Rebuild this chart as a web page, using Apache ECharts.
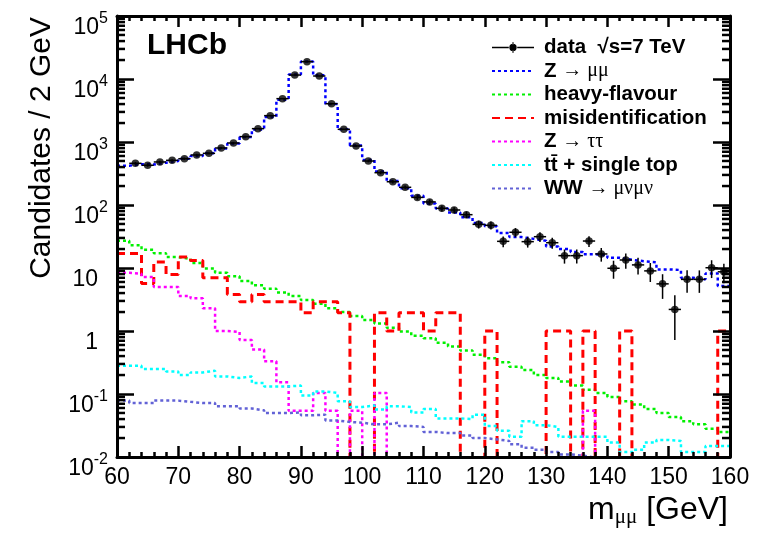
<!DOCTYPE html>
<html>
<head>
    <meta charset="utf-8">
    <title>LHCb m_mumu</title>
    <script src="https://cdn.jsdelivr.net/npm/echarts@6/dist/echarts.min.js"></script>
    <style>
        html, body { margin: 0; padding: 0; background: #fff; }
        #chart { width: 769px; height: 533px; }
    </style>
</head>
<body>
    <div id="chart"></div>
    <script>
        // 2 GeV bins, centres
        var binCentres = [61, 63, 65, 67, 69, 71, 73, 75, 77, 79,
            81, 83, 85, 87, 89, 91, 93, 95, 97, 99,
            101, 103, 105, 107, 109, 111, 113, 115, 117, 119,
            121, 123, 125, 127, 129, 131, 133, 135, 137, 139,
            141, 143, 145, 147, 149, 151, 153, 155, 157, 159];
        var xTicks = [60, 70, 80, 90, 100, 110, 120, 130, 140, 150, 160];
        var yDecades = [0.01, 0.1, 1, 10, 100, 1000, 10000, 100000];

        var dataCounts = [null, 459, 427, 482, 512, 543, 622, 661, 803, 964,
            1216, 1629, 2620, 4875, 11560, 18840, 11160, 4050, 1590, 865,
            499, 326, 234, 191, 132, 112, 88.6, 83.3, 70.2, 49.3,
            47.6, 26.5, 36.9, 26.2, 31.4, 25.2, 15.7, 15.7, 26.8, 16.7,
            9.9, 13.4, 11.2, 9.0, 5.6, 2.2, 6.6, 6.6, 10.1, 8.7];
        var zMuMu = [420, 445, 440, 470, 500, 540, 600, 660, 790, 950,
            1200, 1580, 2500, 4700, 11800, 19000, 11500, 4000, 1600, 880,
            520, 340, 240, 185, 140, 106, 88, 76, 64, 52,
            46, 36, 31, 29, 27, 22, 20, 18, 16.5, 16,
            14.5, 13.5, 12.8, 12.3, 9.5, 9.3, 7.0, 6.6, 8.2, 5.2];
        var heavyFlavour = [27, 23, 19.5, 17.2, 14.9, 14.0, 12.0, 9.8, 8.4, 7.4,
            6.2, 5.3, 4.7, 4.1, 3.6, 3.1, 2.7, 2.3, 2.0, 1.73,
            1.49, 1.32, 1.13, 0.98, 0.84, 0.77, 0.65, 0.57, 0.49, 0.42,
            0.37, 0.32, 0.27, 0.24, 0.20, 0.18, 0.158, 0.137, 0.117, 0.104,
            0.090, 0.077, 0.068, 0.058, 0.050, 0.043, 0.037, 0.033, 0.028, 0.025];
        var misId = [17, 17, 5.7, 12.4, 7.9, 14.9, 13.2, 7.0, 7.0, 3.8,
            2.9, 3.8, 2.9, 2.9, 2.9, 1.95, 2.9, 2.9, 1.95, 0,
            0, 1.95, 1.0, 1.95, 1.95, 1.0, 1.95, 1.95, 0, 0,
            1.0, 0, 0, 0, 0, 1.0, 1.0, 0, 1.0, 0,
            0, 1.0, 0, 0, 0, 0, 0, 0, 0, 1.0];
        var zTauTau = [8.4, 8.1, 7.2, 5.0, 5.0, 3.6, 3.3, 2.3, 1.0, 0.97,
            0.72, 0.51, 0.33, 0.153, 0.054, 0.054, 0.104, 0.054, 0, 0.054,
            0, 0.104, 0, 0, 0, 0, 0, 0, 0, 0,
            0, 0, 0, 0, 0, 0, 0, 0, 0.054, 0,
            0, 0, 0, 0, 0, 0, 0, 0, 0, 0];
        var ttSingleTop = [0.28, 0.28, 0.25, 0.25, 0.228, 0.20, 0.22, 0.234, 0.19, 0.18,
            0.19, 0.149, 0.132, 0.132, 0.136, 0.095, 0.11, 0.104, 0.077, 0.062,
            0.066, 0.057, 0.064, 0.062, 0.051, 0.058, 0.041, 0.041, 0.040, 0.047,
            0.031, 0.026, 0.021, 0.037, 0.032, 0.030, 0.021, 0.021, 0.021, 0.021,
            0.017, 0.012, 0.013, 0.017, 0.0186, 0.018, 0.012, 0.012, 0.015, 0.015];
        var wwMuNu = [0.0785, 0.072, 0.072, 0.0785, 0.0785, 0.075, 0.072, 0.072, 0.064, 0.064,
            0.059, 0.055, 0.050, 0.050, 0.051, 0.046, 0.047, 0.038, 0.036, 0.035,
            0.033, 0.033, 0.035, 0.031, 0.030, 0.025, 0.024, 0.024, 0.022, 0.020,
            0.019, 0.018, 0.016, 0.014, 0.013, 0.012, 0.011, 0.0105, 0.0098, 0.0094,
            0.0088, 0.0085, 0.008, 0.008, 0.0075, 0.0075, 0.007, 0.007, 0.0065, 0.0065];

        var FONT = 'Liberation Sans, Arial, Helvetica, sans-serif';
        var SERIF = 'Liberation Serif, Times New Roman, serif';
        var xMin = xTicks[0], xMax = xTicks[xTicks.length - 1];

        // histogram outline: left bin edges + closing right edge, zero bins pushed below the axis
        function stepLine(vals) {
            var pts = [];
            for (var i = 0; i < binCentres.length; i++) {
                pts.push([binCentres[i] - 1, vals[i] > 0 ? vals[i] : 1e-4]);
            }
            var last = binCentres.length - 1;
            pts.push([binCentres[last] + 1, vals[last] > 0 ? vals[last] : 1e-4]);
            return pts;
        }

        function histSeries(name, vals, color, dash, width) {
            return {
                name: name,
                type: 'line',
                step: 'end',
                symbol: 'none',
                clip: true,
                data: stepLine(vals),
                lineStyle: { color: color, width: width, type: dash },
                itemStyle: { color: color },
                emphasis: { disabled: true },
                z: 2
            };
        }

        var points = [], errBars = [];
        for (var i = 0; i < binCentres.length; i++) {
            var v = dataCounts[i];
            if (v == null) continue;
            points.push([binCentres[i], v]);
            errBars.push([binCentres[i], v, v - Math.sqrt(v), v + Math.sqrt(v)]);
        }

        var minorTicks = [];
        for (var d = 0; d < yDecades.length - 1; d++) {
            for (var m = 2; m <= 9; m++) minorTicks.push([xMin, yDecades[d] * m]);
        }

        function yLabel(val) {
            var e = Math.round(Math.log(val) / Math.LN10);
            if (e === 0) return '{n|1}';
            if (e === 1) return '{n|10}';
            return '{b|10}{e|' + e + '}';
        }

        var legendText = {
            'data': '{b|data  √s=7 TeV}',
            'Z → μμ': '{b|Z }{s|→ μμ}',
            'heavy-flavour': '{b|heavy-flavour}',
            'misidentification': '{b|misidentification}',
            'Z → ττ': '{b|Z }{s|→ ττ}',
            'tt̄ + single top': '{b|tt̄ + single top}',
            'WW → μνμν': '{b|WW }{s|→ μνμν}'
        };
        var dataIcon = 'path://M0,9.4h16v1.2h-16z M24,9.4h16v1.2h-16z M19.4,5h1.2v2h-1.2z M19.4,13h1.2v2h-1.2z ' +
            'M16.5,10a3.5,3.5 0 1,0 7,0a3.5,3.5 0 1,0 -7,0z';

        var axisLine = { show: true, lineStyle: { color: '#000', width: 3 } };
        var myChart = echarts.init(document.getElementById('chart'));
        var option = {
            animation: false,
            backgroundColor: '#fff',
            title: {
                text: 'LHCb', left: 147, top: 31, padding: 0,
                textStyle: { fontFamily: FONT, fontWeight: 'bold', fontSize: 30, color: '#000' }
            },
            grid: { left: 117, right: 39, top: 16, bottom: 76 },
            legend: {
                orient: 'vertical', left: 491, top: 37, padding: 0,
                itemWidth: 42, itemHeight: 14, itemGap: 2.5,
                selectedMode: false,
                itemStyle: { opacity: 0 },
                formatter: function (name) { return legendText[name]; },
                textStyle: {
                    color: '#000', fontFamily: FONT, fontWeight: 'bold', fontSize: 20.5, lineHeight: 21,
                    padding: [0, 0, 0, 5],
                    rich: {
                        b: { fontFamily: FONT, fontWeight: 'bold', fontSize: 20.5, lineHeight: 21, color: '#000' },
                        s: { fontFamily: SERIF, fontWeight: 'normal', fontSize: 20, lineHeight: 21, color: '#000' }
                    }
                },
                data: [
                    { name: 'data', icon: dataIcon, itemStyle: { opacity: 1, color: '#000' } },
                    'Z → μμ', 'heavy-flavour', 'misidentification', 'Z → ττ', 'tt̄ + single top', 'WW → μνμν'
                ]
            },
            xAxis: [{
                type: 'value', min: xMin, max: xMax, interval: 10, position: 'bottom', z: 5,
                axisLine: axisLine,
                axisTick: { inside: true, length: 11, lineStyle: { color: '#000', width: 2.5 } },
                minorTick: { show: true, splitNumber: 5, length: 5, lineStyle: { color: '#000', width: 2.5 } },
                axisLabel: { color: '#000', fontFamily: FONT, fontSize: 23, margin: 9 },
                splitLine: { show: false }
            }, {
                type: 'value', min: xMin, max: xMax, interval: 10, position: 'top', z: 5,
                axisLine: axisLine,
                axisTick: { inside: true, length: 11, lineStyle: { color: '#000', width: 2.5 } },
                minorTick: { show: true, splitNumber: 5, length: 5, lineStyle: { color: '#000', width: 2.5 } },
                axisLabel: { show: false },
                splitLine: { show: false }
            }],
            yAxis: [{
                type: 'log', logBase: 10, min: yDecades[0], max: yDecades[yDecades.length - 1],
                position: 'left', z: 5,
                axisLine: axisLine,
                axisTick: { inside: true, length: 17, lineStyle: { color: '#000', width: 2.5 } },
                axisLabel: {
                    formatter: yLabel, margin: 9, color: '#000',
                    rich: {
                        b: { fontFamily: FONT, fontSize: 23, lineHeight: 23, padding: [12, 0, 0, 0], verticalAlign: 'top', color: '#000' },
                        n: { fontFamily: FONT, fontSize: 23, lineHeight: 23, padding: [12, 10, 0, 0], verticalAlign: 'top', color: '#000' },
                        e: { fontFamily: FONT, fontSize: 16, lineHeight: 16, padding: [6, 0, 0, 0], verticalAlign: 'top', color: '#000' }
                    }
                },
                splitLine: { show: false }
            }, {
                type: 'log', logBase: 10, min: yDecades[0], max: yDecades[yDecades.length - 1],
                position: 'right', z: 5,
                axisLine: axisLine,
                axisTick: { inside: true, length: 17, lineStyle: { color: '#000', width: 2.5 } },
                axisLabel: { show: false },
                splitLine: { show: false }
            }],
            graphic: [{
                type: 'text', x: 42, y: 17, rotation: Math.PI / 2,
                style: {
                    text: 'Candidates / 2 GeV', font: '30px ' + FONT, fill: '#000',
                    align: 'right', verticalAlign: 'middle', textAlign: 'right', textVerticalAlign: 'middle'
                }
            }, {
                type: 'text', x: 728, y: 528,
                style: {
                    text: '{a|m}{s|μμ}{a| [GeV]}', fill: '#000',
                    align: 'right', verticalAlign: 'bottom', textAlign: 'right', textVerticalAlign: 'bottom',
                    rich: {
                        a: { fontFamily: FONT, fontSize: 32, lineHeight: 34, verticalAlign: 'top' },
                        s: { fontFamily: SERIF, fontSize: 21, lineHeight: 21, verticalAlign: 'bottom' }
                    }
                }
            }],
            series: [
                histSeries('Z → μμ', zMuMu, '#0000ff', [3, 3], 2.5),
                histSeries('heavy-flavour', heavyFlavour, '#00f000', [3, 3], 2.5),
                histSeries('misidentification', misId, '#ff0000', [8, 5], 3),
                histSeries('Z → ττ', zTauTau, '#ff00ff', [3, 3], 2.5),
                histSeries('tt̄ + single top', ttSingleTop, '#00ffff', [3, 3], 2.5),
                histSeries('WW → μνμν', wwMuNu, '#6262d6', [3, 3], 2.5),
                {
                    name: 'yMinorTicks', type: 'custom', silent: true, z: 6,
                    data: minorTicks,
                    renderItem: function (params, api) {
                        var pl = api.coord([xMin, api.value(1)]);
                        var pr = api.coord([xMax, api.value(1)]);
                        return {
                            type: 'group', children: [
                                { type: 'line', shape: { x1: pl[0], y1: pl[1], x2: pl[0] + 8, y2: pl[1] }, style: { stroke: '#000', lineWidth: 2.5 } },
                                { type: 'line', shape: { x1: pr[0], y1: pr[1], x2: pr[0] - 8, y2: pr[1] }, style: { stroke: '#000', lineWidth: 2.5 } }
                            ]
                        };
                    }
                },
                {
                    name: 'dataErrors', type: 'custom', silent: true, z: 3,
                    data: errBars,
                    renderItem: function (params, api) {
                        var x = api.value(0), y = api.value(1);
                        var lo = api.coord([x, api.value(2)]), hi = api.coord([x, api.value(3)]);
                        var l = api.coord([x - 1, y]), r = api.coord([x + 1, y]);
                        return {
                            type: 'group', children: [
                                { type: 'line', shape: { x1: lo[0], y1: lo[1], x2: hi[0], y2: hi[1] }, style: { stroke: '#000', lineWidth: 1.5 } },
                                { type: 'line', shape: { x1: l[0], y1: l[1], x2: r[0], y2: r[1] }, style: { stroke: '#000', lineWidth: 1.5 } }
                            ]
                        };
                    }
                },
                {
                    name: 'data', type: 'scatter', symbol: 'circle', symbolSize: 7.5, z: 4,
                    itemStyle: { color: '#000' },
                    data: points
                }
            ]
        };
        myChart.setOption(option);
    </script>
</body>
</html>
